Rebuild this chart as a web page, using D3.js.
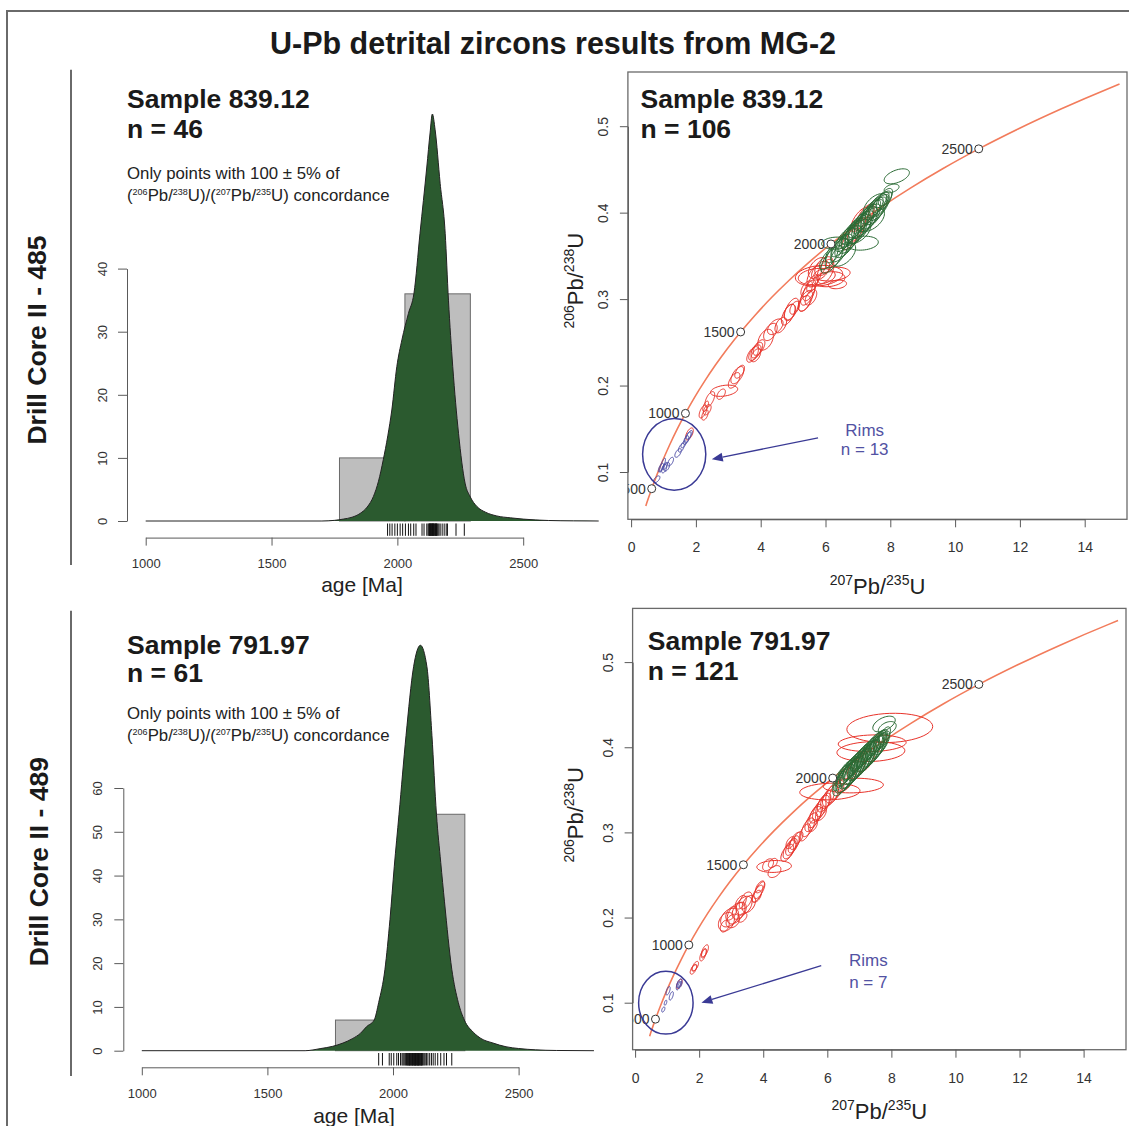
<!DOCTYPE html>
<html><head><meta charset="utf-8">
<script src="https://cdn.jsdelivr.net/npm/d3@7"></script>
<style>body{margin:0;background:#fff} svg{display:block} text{font-family:"Liberation Sans",Arial,Helvetica,sans-serif}</style>
</head><body>
<svg id="c" width="1129" height="1126"></svg>
<script>
// ---------------- DATA ----------------
const figTitle = "U-Pb detrital zircons results from MG-2";
const coreLabels = ["Drill Core II - 485", "Drill Core II - 489"];
const sampleLabels = ["Sample 839.12", "Sample 791.97"];
const nHist = ["n = 46", "n = 61"];
const nConc = ["n = 106", "n = 121"];
const nRims = ["n = 13", "n = 7"];

const histXTicks = [1000, 1500, 2000, 2500];
const histYTicksTop = [0, 10, 20, 30, 40];
const histYTicksBot = [0, 10, 20, 30, 40, 50, 60];
const concXTicks = [0, 2, 4, 6, 8, 10, 12, 14];
const concYTicks = [0.1, 0.2, 0.3, 0.4, 0.5];
const markerAges = [500, 1000, 1500, 2000, 2500];

// histogram bins (Ma) and counts
const histBreaksTop = [1770, 2030, 2290];
const histCountsTop = [10, 36];
const histBreaksBot = [1771, 2028, 2286];
const histCountsBot = [7, 54];

// density curves (age Ma, scaled to counts)
const densAgeTop = [1000,1700,1750,1785,1820,1852,1880,1905,1925,1944,1962,1978,1998,2018,2044,2066,2090,2117,2130,2139,2150,2170,2190,2203,2220,2243,2269,2290,2316,2350,2395,2450,2500,2600,2700,2800];
const densValTop = [0,0,0.1,0.3,0.6,1.2,2.2,3.9,6.3,9.7,13.5,17.6,24.5,28.7,32.9,36.1,45.6,56.1,61.5,64.5,62,53.5,45.6,35,24.5,13.9,6,3.8,2.3,1.4,0.8,0.5,0.3,0.08,0.02,0];
const densAgeBot = [1000,1650,1713,1760,1801,1840,1871,1895,1925,1943,1968,1988,2005,2024,2052,2082,2109,2135,2155,2173,2190,2205,2234,2260,2284,2320,2350,2398,2450,2500,2568,2650,2800];
const densValBot = [0,0,0.5,1.0,1.75,2.8,4,5.5,7,11,18.6,30,42,54,72,87.7,92.6,87.7,72,54,43,34,18.6,11,7,4.2,2.8,1.75,0.9,0.5,0.2,0.05,0];

// rug (individual concordant ages, Ma)
const rugTop = [1961,1970,1979,1990,2000,2011,2021,2032,2044,2053,2065,2074,2098,2106,2117,2122,2125,2128,2131,2134,2137,2140,2143,2146,2149,2152,2155,2158,2161,2165,2170,2178,2186,2194,2199,2233,2266,2128,2134,2140,2146,2152,2137,2143,2131,2155];
const rugBot = [1943,1958,1985,1993,2003,2015,2022,2030,2036,2040,2044,2048,2051,2054,2057,2060,2063,2066,2069,2072,2075,2078,2081,2084,2087,2090,2093,2096,2099,2102,2105,2108,2111,2114,2117,2120,2124,2128,2133,2139,2146,2153,2160,2168,2178,2190,2203,2213,2234,2060,2066,2072,2078,2084,2090,2096,2102,2108,2114,2087,2099];

// concordia table (age Ma, 207Pb/235U, 206Pb/238U)
const concAge = [380,400,500,600,700,800,900,1000,1100,1200,1300,1400,1500,1600,1700,1800,1900,2000,2100,2200,2300,2400,2500,2600,2700,2800,2820];
const concX = [0.4539,0.4828,0.6363,0.8056,0.9925,1.1987,1.4263,1.6774,1.9545,2.2603,2.5977,2.9701,3.3810,3.8344,4.3348,4.8869,5.4962,6.1685,6.9105,7.7292,8.6326,9.6294,10.7297,11.9437,13.2834,14.7616,15.0752];
const concY = [0.0607,0.0640,0.0807,0.0975,0.1147,0.1321,0.1498,0.1678,0.1861,0.2046,0.2234,0.2426,0.2620,0.2817,0.3018,0.3221,0.3428,0.3638,0.3851,0.4067,0.4287,0.4511,0.4738,0.4968,0.5202,0.5440,0.5488];

// error ellipses: [207/235, 206/238, sx, sy, rho]
const topRed = [
[1.80,0.144,0.12,0.007,0.6],[2.22,0.170,0.12,0.0075,0.6],[2.28,0.166,0.10,0.006,0.5],[2.35,0.172,0.12,0.006,0.5],
[2.30,0.176,0.09,0.006,0.6],[2.43,0.184,0.15,0.009,0.6],[2.87,0.194,0.42,0.0065,0.3],[2.78,0.190,0.13,0.006,0.5],
[3.18,0.206,0.18,0.009,0.6],[3.28,0.212,0.20,0.010,0.6],[3.35,0.216,0.15,0.0075,0.6],[3.75,0.236,0.18,0.009,0.6],
[3.82,0.238,0.19,0.009,0.6],[3.88,0.241,0.18,0.009,0.6],[3.95,0.244,0.18,0.009,0.6],[3.85,0.235,0.15,0.0075,0.5],
[4.15,0.253,0.24,0.012,0.4],[4.30,0.262,0.21,0.010,0.5],[4.45,0.268,0.24,0.009,0.5],[4.62,0.270,0.18,0.009,0.5],
[4.85,0.282,0.21,0.012,0.6],[4.95,0.288,0.22,0.013,0.6],[4.90,0.285,0.18,0.009,0.4],[5.05,0.290,0.15,0.0075,0.5],
[5.38,0.298,0.22,0.012,0.6],[5.45,0.305,0.22,0.012,0.6],[5.50,0.310,0.20,0.012,0.6],[5.55,0.302,0.18,0.009,0.5],
[5.42,0.312,0.18,0.009,0.5],[5.60,0.318,0.18,0.010,0.6],[5.35,0.295,0.18,0.009,0.5],[5.80,0.327,0.73,0.012,0.2],
[6.20,0.329,0.56,0.008,0.2],[6.37,0.317,0.28,0.005,0.2],[5.73,0.326,0.57,0.0096,0.2],[6.11,0.323,0.49,0.0087,0.2],
[5.85,0.333,0.28,0.011,0.5],[5.95,0.338,0.28,0.011,0.5],[6.00,0.332,0.26,0.014,0.5],[5.75,0.336,0.28,0.012,0.5],
[5.65,0.326,0.22,0.012,0.5],[7.06,0.392,0.28,0.014,0.7],[6.96,0.380,0.28,0.014,0.7],[6.76,0.369,0.26,0.012,0.7],
[7.22,0.396,0.28,0.014,0.7]];
const topGreen = [
[8.20,0.442,0.39,0.0087,0.5],[8.04,0.428,0.23,0.005,0.4],[6.32,0.3647,0.44,0.007,0.1],[7.14,0.3647,0.49,0.0081,0.15],
[6.10,0.347,0.28,0.013,0.7],[6.20,0.346,0.34,0.016,0.7],[6.30,0.356,0.30,0.014,0.7],[6.35,0.353,0.36,0.017,0.7],
[6.45,0.362,0.28,0.013,0.7],[6.50,0.359,0.34,0.016,0.7],[6.60,0.369,0.30,0.014,0.7],[6.65,0.365,0.36,0.017,0.7],
[6.70,0.373,0.28,0.013,0.7],[6.75,0.369,0.34,0.016,0.7],[6.80,0.377,0.30,0.014,0.7],[6.85,0.374,0.36,0.017,0.7],
[6.90,0.381,0.28,0.013,0.7],[6.95,0.378,0.34,0.016,0.7],[7.00,0.385,0.30,0.014,0.7],[7.05,0.381,0.36,0.017,0.7],
[7.10,0.389,0.28,0.013,0.7],[7.15,0.386,0.34,0.016,0.7],[7.20,0.393,0.30,0.014,0.7],[7.25,0.390,0.36,0.017,0.7],
[7.30,0.397,0.28,0.013,0.7],[7.35,0.394,0.34,0.016,0.7],[7.40,0.401,0.30,0.014,0.7],[7.45,0.398,0.36,0.017,0.7],
[7.50,0.405,0.28,0.013,0.7],[7.55,0.402,0.34,0.016,0.7],[7.60,0.409,0.28,0.013,0.7],[7.65,0.406,0.32,0.015,0.7],
[7.70,0.412,0.26,0.012,0.7],[7.80,0.414,0.24,0.011,0.6],[7.85,0.418,0.22,0.010,0.6],[7.40,0.392,0.42,0.014,0.5],
[7.00,0.378,0.40,0.014,0.5],[7.55,0.408,0.38,0.014,0.5],[6.55,0.352,0.38,0.014,0.5]];
const topBlue = [
[0.79,0.0915,0.10,0.004,0.6],[0.92,0.105,0.08,0.005,0.7],[0.97,0.108,0.09,0.008,0.8],[1.02,0.104,0.08,0.005,0.5],
[1.05,0.107,0.07,0.004,0.6],[1.10,0.106,0.09,0.005,0.5],[1.22,0.112,0.09,0.005,0.6],[1.45,0.122,0.10,0.005,0.6],
[1.55,0.128,0.09,0.005,0.6],[1.62,0.132,0.08,0.004,0.6],[1.70,0.137,0.08,0.005,0.6],[1.75,0.140,0.10,0.0065,0.7],
[1.80,0.143,0.09,0.005,0.7]];

const botRed = [
[1.38,0.122,0.09,0.0055,0.6],[1.82,0.139,0.10,0.0055,0.6],[1.88,0.143,0.10,0.0055,0.6],[1.85,0.141,0.08,0.004,0.5],
[2.12,0.156,0.10,0.007,0.6],[2.18,0.161,0.11,0.007,0.6],[2.15,0.158,0.08,0.0055,0.6],[2.85,0.195,0.25,0.011,0.3],
[2.95,0.200,0.28,0.011,0.4],[2.80,0.190,0.14,0.007,0.4],[3.05,0.196,0.21,0.008,0.3],[3.15,0.205,0.28,0.0125,0.5],
[3.25,0.208,0.22,0.010,0.4],[3.40,0.214,0.25,0.011,0.4],[3.45,0.220,0.20,0.010,0.5],[3.30,0.218,0.17,0.008,0.5],
[3.55,0.216,0.21,0.010,0.4],[3.00,0.205,0.17,0.008,0.5],[3.35,0.200,0.14,0.0055,0.5],[3.82,0.228,0.17,0.010,0.7],
[3.88,0.232,0.17,0.010,0.7],[3.90,0.236,0.14,0.007,0.6],[3.80,0.225,0.14,0.007,0.5],[4.34,0.260,0.54,0.007,0.1],
[4.15,0.262,0.17,0.007,0.4],[4.35,0.254,0.20,0.007,0.4],[4.30,0.264,0.14,0.0055,0.4],[4.75,0.276,0.20,0.010,0.6],
[4.82,0.280,0.20,0.011,0.6],[4.88,0.283,0.18,0.010,0.6],[4.95,0.286,0.17,0.010,0.6],[5.00,0.290,0.17,0.010,0.6],
[4.85,0.288,0.14,0.007,0.5],[5.10,0.294,0.14,0.007,0.5],[5.30,0.300,0.17,0.010,0.6],[5.40,0.306,0.20,0.011,0.6],
[5.50,0.312,0.20,0.011,0.6],[5.60,0.318,0.21,0.0125,0.6],[5.65,0.322,0.20,0.011,0.6],[5.75,0.326,0.21,0.0125,0.6],
[5.85,0.331,0.21,0.0125,0.6],[5.90,0.335,0.21,0.011,0.6],[6.00,0.339,0.21,0.011,0.6],[5.55,0.308,0.14,0.007,0.5],
[5.80,0.322,0.17,0.008,0.5],[6.10,0.343,0.25,0.0125,0.6],[6.20,0.347,0.25,0.0125,0.6],[6.30,0.350,0.22,0.011,0.6],
[6.08,0.348,0.94,0.0098,0.1],[6.81,0.355,0.94,0.0086,0.1],[7.95,0.4227,1.34,0.0172,0.1],[7.40,0.4047,1.06,0.0098,0.1],
[7.36,0.3949,1.06,0.0117,0.1],[6.90,0.375,0.28,0.014,0.6],[7.20,0.385,0.28,0.014,0.6],[6.60,0.362,0.28,0.014,0.6]];
const botGreen = [
[7.77,0.4273,0.35,0.0092,0.5],[7.87,0.4223,0.28,0.0079,0.4],
[6.45,0.364,0.28,0.015,0.7],[6.48,0.360,0.31,0.017,0.7],[6.52,0.367,0.25,0.014,0.7],[6.55,0.363,0.31,0.017,0.7],
[6.58,0.370,0.28,0.015,0.7],[6.62,0.365,0.34,0.018,0.7],[6.65,0.372,0.28,0.015,0.7],[6.68,0.368,0.31,0.017,0.7],
[6.72,0.375,0.25,0.014,0.7],[6.75,0.370,0.34,0.018,0.7],[6.78,0.377,0.28,0.015,0.7],[6.82,0.373,0.31,0.017,0.7],
[6.85,0.380,0.25,0.014,0.7],[6.88,0.375,0.34,0.018,0.7],[6.92,0.382,0.28,0.015,0.7],[6.95,0.378,0.31,0.017,0.7],
[6.98,0.385,0.25,0.014,0.7],[7.02,0.380,0.34,0.018,0.7],[7.05,0.387,0.28,0.015,0.7],[7.08,0.382,0.31,0.017,0.7],
[7.12,0.390,0.25,0.014,0.7],[7.15,0.385,0.34,0.018,0.7],[7.18,0.392,0.28,0.015,0.7],[7.22,0.388,0.31,0.017,0.7],
[7.25,0.394,0.25,0.014,0.7],[7.28,0.390,0.34,0.018,0.7],[7.32,0.397,0.28,0.015,0.7],[7.35,0.392,0.31,0.017,0.7],
[7.38,0.399,0.25,0.014,0.7],[7.42,0.395,0.34,0.018,0.7],[7.45,0.402,0.28,0.015,0.7],[7.48,0.397,0.31,0.017,0.7],
[7.52,0.404,0.25,0.014,0.7],[7.55,0.400,0.31,0.017,0.7],[7.58,0.406,0.25,0.014,0.7],[7.62,0.402,0.28,0.015,0.7],
[7.65,0.408,0.22,0.013,0.7],[7.70,0.405,0.25,0.014,0.7],[7.75,0.411,0.22,0.013,0.7]];
const botBlue = [
[0.88,0.092,0.05,0.003,0.5],[0.95,0.100,0.04,0.003,0.5],[1.03,0.114,0.065,0.005,0.6],[1.13,0.108,0.065,0.005,0.6],
[1.35,0.120,0.065,0.005,0.6],[1.38,0.123,0.08,0.005,0.6],[1.40,0.121,0.065,0.004,0.6]];

// rims annotation (data units): circle [cx, cy, rx, ry], arrow [x0,y0,x1,y1], label [x, y1, y2]
const rimsCircle = [[1.33,0.1205,0.975,0.0415],[0.96,0.100,0.85,0.0369]];
const rimsArrow = [[5.77,0.1395,2.49,0.1147],[5.81,0.1435,2.07,0.100]];
const rimsLabel = [[7.21,0.1417,0.1197],[7.28,0.1427,0.1178]];

// ---------------- DRAW ----------------
const svg = d3.select("#c");
const F = '"Liberation Sans",Arial,Helvetica,sans-serif';
svg.append("rect").attr("width",1129).attr("height",1126).attr("fill","#fff");
svg.append("path").attr("d","M7,1126V11H1129").attr("fill","none").attr("stroke","#6a6a6a").attr("stroke-width",2);
svg.append("text").attr("x",553).attr("y",54).attr("text-anchor","middle")
  .style("font-size","30.5px").style("font-weight","bold").attr("fill","#1a1a1a").text(figTitle);

function rich(g, x, y, parts, size, supSize, raise, fill){
  const t = g.append("text").attr("x",x).attr("y",y).style("font-size",size+"px").attr("fill",fill||"#222");
  let cur = 0;
  parts.forEach(p=>{
    const sup = p[1]===1;
    const target = sup ? -raise : 0;
    t.append("tspan").attr("dy", target-cur).style("font-size",(sup?supSize:size)+"px").text(p[0]);
    cur = target;
  });
  return t;
}
const concParts = [["(",0],["206",1],["Pb/",0],["238",1],["U)/(",0],["207",1],["Pb/",0],["235",1],["U) concordance",0]];

const histCfg = [
  {breaks:histBreaksTop,counts:histCountsTop,densAge:densAgeTop,densVal:densValTop,rug:rugTop,yTicks:histYTicksTop,
   xr:[145.7,523.2],yr:[521,268.6],ymax:40,axisY:537.6,yAxisX:127,lblX:20,rugY:[523.5,535.8],
   tY:[108.3,137.6,179,201.4],coreX:46.4,coreY:340,sep:[69.7,565],titleY:592,titleX:362},
  {breaks:histBreaksBot,counts:histCountsBot,densAge:densAgeBot,densVal:densValBot,rug:rugBot,yTicks:histYTicksBot,
   xr:[141.8,518.6],yr:[1050.7,788],ymax:60,axisY:1067.3,yAxisX:123.3,lblX:21,rugY:[1053,1065.5],
   tY:[653.7,682.2,719,741],coreX:48.2,coreY:861.7,sep:[610.7,1076],titleY:1123,titleX:354}
];

histCfg.forEach((p,k)=>{
  const g = svg.append("g");
  const x = d3.scaleLinear().domain([1000,2500]).range(p.xr);
  const y = d3.scaleLinear().domain([0,p.ymax]).range(p.yr);
  g.append("line").attr("x1",71).attr("x2",71).attr("y1",p.sep[0]).attr("y2",p.sep[1]).attr("stroke","#6a6a6a").attr("stroke-width",2);
  g.append("text").attr("transform",`translate(${p.coreX},${p.coreY}) rotate(-90)`).attr("text-anchor","middle")
    .style("font-size","26.5px").style("font-weight","bold").attr("fill","#1a1a1a").text(coreLabels[k]);
  const bars = p.counts.map((c,i)=>({x0:p.breaks[i],x1:p.breaks[i+1],c}));
  g.selectAll("rect.bar").data(bars).join("rect").attr("class","bar")
    .attr("x",d=>x(d.x0)).attr("width",d=>x(d.x1)-x(d.x0)).attr("y",d=>y(d.c)).attr("height",d=>y(0)-y(d.c))
    .attr("fill","#bebebe").attr("stroke","#6a6a6a").attr("stroke-width",1);
  const dens = p.densAge.map((a,i)=>[a,p.densVal[i]]);
  g.append("path").datum(dens).attr("d",d3.area().x(d=>x(d[0])).y0(y(0)).y1(d=>y(d[1])).curve(d3.curveMonotoneX))
    .attr("fill","#2b5a2f");
  g.append("path").datum(dens).attr("d",d3.line().x(d=>x(d[0])).y(d=>y(d[1])).curve(d3.curveMonotoneX))
    .attr("fill","none").attr("stroke","#222").attr("stroke-width",1);
  g.selectAll("line.rug").data(p.rug).join("line").attr("class","rug")
    .attr("x1",d=>x(d)).attr("x2",d=>x(d)).attr("y1",p.rugY[0]).attr("y2",p.rugY[1]).attr("stroke","#111").attr("stroke-width",1);
  const ax = g.append("g").attr("transform",`translate(0,${p.axisY})`)
    .call(d3.axisBottom(x).tickValues(histXTicks).tickSize(8).tickSizeOuter(0).tickPadding(13).tickFormat(d3.format("d")));
  const ay = g.append("g").attr("transform",`translate(${p.yAxisX},0)`)
    .call(d3.axisLeft(y).tickValues(p.yTicks).tickSize(9).tickSizeOuter(0));
  ay.selectAll("text").attr("x",null).attr("dy",null).attr("text-anchor","middle").attr("transform",`translate(${-p.lblX},0) rotate(-90)`);
  [ax,ay].forEach(a=>{a.selectAll("path,line").attr("stroke","#5a5a5a");
    a.selectAll("text").style("font-size","13px").style("font-family",F).attr("fill","#333");});
  g.append("text").attr("x",p.titleX).attr("y",p.titleY).attr("text-anchor","middle").style("font-size","21px").attr("fill","#222").text("age [Ma]");
  g.append("text").attr("x",127).attr("y",p.tY[0]).style("font-size","26.5px").style("font-weight","bold").attr("fill","#1a1a1a").text(sampleLabels[k]);
  g.append("text").attr("x",127).attr("y",p.tY[1]).style("font-size","26.5px").style("font-weight","bold").attr("fill","#1a1a1a").text(nHist[k]);
  g.append("text").attr("x",127).attr("y",p.tY[2]).style("font-size","16.8px").attr("fill","#222").text("Only points with 100 \u00b1 5% of");
  rich(g,127,p.tY[3],concParts,16.8,9,6,"#222");
});

const concCfg = [
  {xr:[631.1,1084.7],yr:[472,126.2],box:[627.9,72,1127,519.3],red:topRed,green:topGreen,blue:topBlue,
   ytX:582.5,ytY:280.7,xtX:877.5,xtY:594,sX:640.5,sY:[108.3,137.6]},
  {xr:[635.1,1083.6],yr:[1002.7,662.1],box:[632.6,608.4,1126,1049.7],red:botRed,green:botGreen,blue:botBlue,
   ytX:582.5,ytY:814.8,xtX:879.3,xtY:1119,sX:647.8,sY:[650.3,679.5]}
];

function ellPts(e){
  const [cx,cy,sx,sy,r]=e, q=Math.sqrt(1-r*r);
  return d3.range(48).map(i=>{const t=i/48*2*Math.PI; return [cx+sx*Math.cos(t), cy+sy*(r*Math.cos(t)+q*Math.sin(t))];});
}

concCfg.forEach((p,k)=>{
  const g = svg.append("g");
  const x = d3.scaleLinear().domain([0,14]).range(p.xr);
  const y = d3.scaleLinear().domain([0.1,0.5]).range(p.yr);
  const [bx0,by0,bx1,by1] = p.box;
  const cid = "clip"+k;
  g.append("defs").append("clipPath").attr("id",cid).append("rect").attr("x",bx0).attr("y",by0).attr("width",bx1-bx0).attr("height",by1-by0);
  const inner = g.append("g").attr("clip-path",`url(#${cid})`);
  const conc = concAge.map((a,i)=>[concX[i],concY[i]]);
  inner.append("path").datum(conc).attr("d",d3.line().x(d=>x(d[0])).y(d=>y(d[1])).curve(d3.curveMonotoneX))
    .attr("fill","none").attr("stroke","#f27c5c").attr("stroke-width",1.6);
  const ell = d3.line().x(d=>x(d[0])).y(d=>y(d[1])).curve(d3.curveLinearClosed);
  [[p.red,"#e8332a"],[p.green,"#2b6b35"],[p.blue,"#4b4ba6"]].forEach(([arr,col])=>{
    inner.append("g").selectAll("path").data(arr).join("path").attr("d",d=>ell(ellPts(d)))
      .attr("fill","none").attr("stroke",col).attr("stroke-width",1);
  });
  const mk = markerAges.map(a=>{const i=concAge.indexOf(a); return {a,x:concX[i],y:concY[i]};});
  inner.selectAll("circle.mk").data(mk).join("circle").attr("class","mk").attr("cx",d=>x(d.x)).attr("cy",d=>y(d.y)).attr("r",4)
    .attr("fill","#fff").attr("stroke","#333").attr("stroke-width",1);
  inner.selectAll("text.mk").data(mk).join("text").attr("class","mk").attr("x",d=>x(d.x)-6).attr("y",d=>y(d.y)+5)
    .attr("text-anchor","end").style("font-size","14px").attr("fill","#333").text(d=>d.a);
  const rc = rimsCircle[k];
  inner.append("ellipse").attr("cx",x(rc[0])).attr("cy",y(rc[1])).attr("rx",x(rc[0]+rc[2])-x(rc[0])).attr("ry",y(rc[1])-y(rc[1]+rc[3]))
    .attr("fill","none").attr("stroke","#3a3a95").attr("stroke-width",1.5);
  const ra = rimsArrow[k];
  const X0=x(ra[0]),Y0=y(ra[1]),X1=x(ra[2]),Y1=y(ra[3]);
  const ang=Math.atan2(Y1-Y0,X1-X0), L=11, Wd=4.5;
  const bxp=X1-L*Math.cos(ang), byp=Y1-L*Math.sin(ang);
  inner.append("line").attr("x1",X0).attr("y1",Y0).attr("x2",bxp).attr("y2",byp).attr("stroke","#3a3a95").attr("stroke-width",1.3);
  inner.append("path").attr("d",`M${X1},${Y1}L${bxp+Wd*Math.sin(ang)},${byp-Wd*Math.cos(ang)}L${bxp-Wd*Math.sin(ang)},${byp+Wd*Math.cos(ang)}Z`).attr("fill","#3a3a95");
  const rl = rimsLabel[k];
  inner.append("text").attr("x",x(rl[0])).attr("y",y(rl[1])).attr("text-anchor","middle").style("font-size","17px").attr("fill","#5252a3").text("Rims");
  inner.append("text").attr("x",x(rl[0])).attr("y",y(rl[2])).attr("text-anchor","middle").style("font-size","17px").attr("fill","#5252a3").text(nRims[k]);
  g.append("rect").attr("x",bx0).attr("y",by0).attr("width",bx1-bx0).attr("height",by1-by0).attr("fill","none").attr("stroke","#6a6a6a").attr("stroke-width",1.3);
  const ax = g.append("g").attr("transform",`translate(0,${by1})`)
    .call(d3.axisBottom(x).tickValues(concXTicks).tickSize(8).tickSizeOuter(0).tickPadding(15).tickFormat(d3.format("d")));
  const ay = g.append("g").attr("transform",`translate(${bx0},0)`)
    .call(d3.axisLeft(y).tickValues(concYTicks).tickSize(8).tickSizeOuter(0).tickFormat(d3.format(".1f")));
  ay.selectAll("text").attr("x",null).attr("dy",null).attr("text-anchor","middle").attr("transform","translate(-20,0) rotate(-90)");
  [ax,ay].forEach(a=>{a.selectAll("path,line").attr("stroke","#5a5a5a");
    a.selectAll("text").style("font-size","14px").style("font-family",F).attr("fill","#333");});
  const xt = g.append("text").attr("x",p.xtX).attr("y",p.xtY).attr("text-anchor","middle").attr("fill","#222");
  [["207",1],["Pb/",0],["235",1],["U",0]].reduce((cur,pt)=>{const sup=pt[1]===1, tg=sup?-9:0;
    xt.append("tspan").attr("dy",tg-cur).style("font-size",(sup?14:22)+"px").text(pt[0]); return tg;},0);
  const yt = g.append("text").attr("transform",`translate(${p.ytX},${p.ytY}) rotate(-90)`).attr("text-anchor","middle").attr("fill","#222");
  [["206",1],["Pb/",0],["238",1],["U",0]].reduce((cur,pt)=>{const sup=pt[1]===1, tg=sup?-9:0;
    yt.append("tspan").attr("dy",tg-cur).style("font-size",(sup?14:22)+"px").text(pt[0]); return tg;},0);
  g.append("text").attr("x",p.sX).attr("y",p.sY[0]).style("font-size","26.5px").style("font-weight","bold").attr("fill","#1a1a1a").text(sampleLabels[k]);
  g.append("text").attr("x",p.sX).attr("y",p.sY[1]).style("font-size","26.5px").style("font-weight","bold").attr("fill","#1a1a1a").text(nConc[k]);
});
</script>
</body></html>
